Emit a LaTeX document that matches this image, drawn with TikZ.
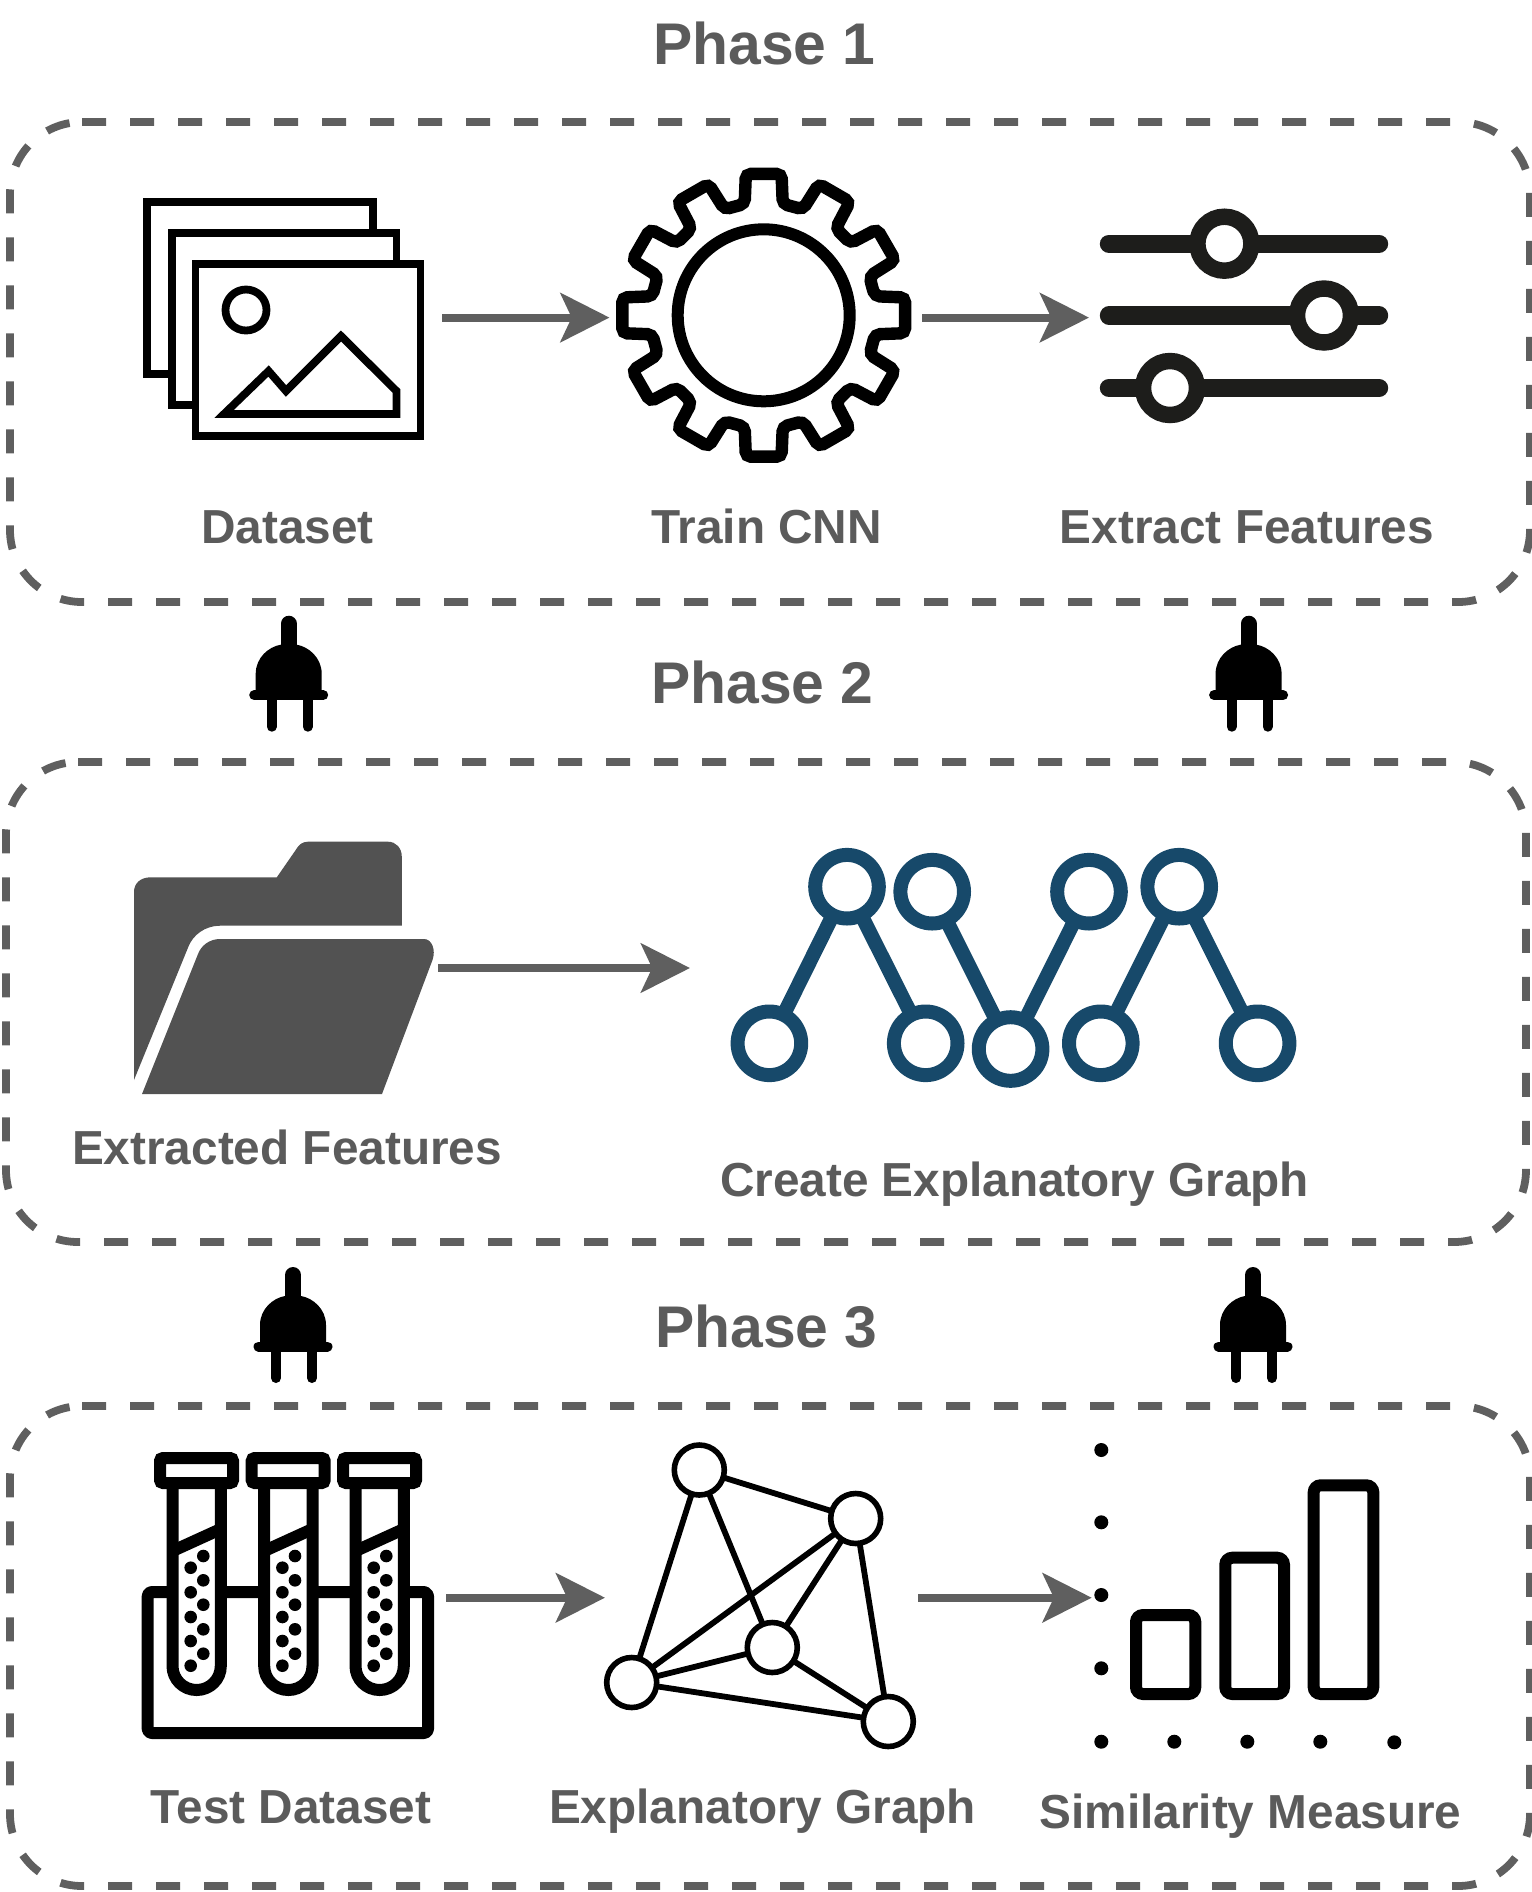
\documentclass[tikz,border=0pt]{standalone}
\usepackage{fontspec}
\setmainfont{Liberation Sans}
\usetikzlibrary{arrows.meta}
\definecolor{txtgrey}{HTML}{5B5B5B}
\definecolor{dashgrey}{HTML}{5F5F5F}
\definecolor{folderg}{HTML}{525252}
\definecolor{sliderk}{HTML}{1D1D1B}
\definecolor{graphblue}{HTML}{17496A}
\tikzset{
 phasebox/.style={draw=dashgrey,line width=3.9pt,dash pattern=on 12pt off 12pt},
 phaseframe/.pic={
  \draw[phasebox] (72,0) -- (1448,0) .. controls (1487.8,0) and (1520,32.2) .. (1520,72) -- (1520,408) .. controls (1520,447.8) and (1487.8,480) .. (1448,480) -- (72,480) .. controls (32.2,480) and (0,447.8) .. (0,408) -- (0,72) .. controls (0,32.2) and (32.2,0) .. (72,0);
 },
 flow/.style={draw=dashgrey,line width=4pt,-{Stealth[length=24.5pt,width=24.5pt,inset=5.6pt,fill=dashgrey]}},
 iconbox/.style={inner sep=0pt,outer sep=0pt,minimum height=5pt},
 phasetitle/.style={anchor=base,inner sep=0pt,text=txtgrey,font=\fontsize{29.4pt}{34pt}\selectfont\bfseries},
 label/.style={anchor=base,inner sep=0pt,text=txtgrey,font=\fontsize{23.87pt}{28pt}\selectfont\bfseries},
 imgrect/.style={draw=black,fill=white,line width=3.9pt,line join=miter},
 bluenode/.style={circle,draw=graphblue,fill=white,line width=7pt,minimum size=31.8pt,inner sep=0pt,outer sep=0pt},
 blueedge/.style={draw=graphblue,line width=7.2pt},
 netnode/.style={circle,draw=black,fill=white,line width=2.8pt,minimum size=25pt,inner sep=0pt,outer sep=0pt},
 netedge/.style={draw=black,line width=2.9pt},
 knob/.style={circle,draw=sliderk,fill=white,line width=8.2pt,minimum size=27pt,inner sep=0pt,outer sep=0pt},
 sliderline/.style={draw=sliderk,line width=9.2pt,line cap=round},
 bar/.style={draw=black,line width=6pt,rounded corners=3.5pt},
 dotmark/.style={circle,fill=black,minimum size=7pt,inner sep=0pt,outer sep=0pt},
 plugicon/.pic={
  \fill[black] (-33,75) -- (-33,58) .. controls (-33,42) and (-20,31) .. (-8,29) -- (8,29) .. controls (20,31) and (33,42) .. (33,58) -- (33,75) -- cycle;
  \draw[black,line width=8pt,line cap=round] (0,8) -- (0,32);
  \draw[black,line width=5pt,line cap=round] (-34.5,79.5) -- (34.5,79.5);
  \draw[black,line width=5pt,line cap=round] (-17,78) -- (-17,111);
  \draw[black,line width=5pt,line cap=round] (19,78) -- (19,111);
 },
 tubeicon/.pic={
  \draw[black,fill=white,line width=6pt] (172.5,1483) -- (172.5,1666) arc[start angle=180,end angle=360,x radius=24.15,y radius=-24] -- (220.8,1483);
  \draw[black,line width=6pt] (172.5,1551) -- (220.8,1529);
  \draw[black,fill=white,line width=6pt,rounded corners=1.5pt] (160,1458) rectangle (233,1483);
  \foreach \px/\py in {203.3/1556,190.7/1567.7,203.3/1580.3,190.7/1592.3,203.3/1604.7,190.7/1617,203.3/1629.3,190.7/1641,203.3/1653.7,190.7/1665.7}
   \fill[black] (\px,\py) circle[radius=6.3];
 }
}
\begin{document}
\begin{tikzpicture}[x=0.5pt,y=-0.5pt]
\useasboundingbox (0,0) rectangle (1532,1892);
\clip (0,0) rectangle (1532,1892);

% phase frames
\pic at (10,122) {phaseframe};
\pic at (6,762) {phaseframe};
\pic at (10,1406) {phaseframe};

% titles
\node[phasetitle] (title1) at (764.5,64) {Phase 1};
\node[phasetitle] (title2) at (762.6,703) {Phase 2};
\node[phasetitle] (title3) at (766.5,1347) {Phase 3};

% labels
\node[label] (lab1) at (287.5,543.7) {Dataset};
\node[label] (lab2) at (766.5,543.7) {Train CNN};
\node[label] (lab3) at (1247,543.7) {Extract Features};
\node[label] (lab4) at (287,1164) {Extracted Features};
\node[label] (lab5) at (1014.5,1196) {Create Explanatory Graph};
\node[label] (lab6) at (291,1823) {Test Dataset};
\node[label] (lab7) at (762.6,1823) {Explanatory Graph};
\node[label] (lab8) at (1250.5,1828) {Similarity Measure};

% image stack
\draw[imgrect] (147,202) rectangle (372.6,374);
\draw[imgrect] (171.7,233) rectangle (396.5,405);
\draw[imgrect] (195.5,264) rectangle (420.4,436);
\draw[black,line width=3.9pt] (246,310) circle[radius=20.5];
\draw[black,line width=3.9pt,line join=miter] (224,414) -- (268.6,371) -- (286,391) -- (341,336) -- (396.5,391) -- (396.5,414) -- cycle;

% gear
\begin{scope}[shift={(763.7,315.3)}]
\draw[black,line width=6.2pt,rounded corners=2.5pt] (-15:112)
 \foreach \a in {0,30,...,330} { -- (\a-9.7:113) -- (\a-7.2:142.5) -- (\a+7.2:142.5) -- (\a+9.7:113) } -- cycle;
\draw[black,line width=6pt] (0,0) circle[radius=86];
\end{scope}

% sliders
\draw[sliderline] (1109,243.7) -- (1379,243.7);
\draw[sliderline] (1109,315.5) -- (1379,315.5);
\draw[sliderline] (1109,388) -- (1379,388);
\node[knob] (k1) at (1224.4,243.7) {};
\node[knob] (k2) at (1324,315.5) {};
\node[knob] (k3) at (1170,388) {};

% plugs
\pic at (288.7,615.7) {plugicon};
\pic at (1248.6,615.7) {plugicon};
\pic at (293,1267) {plugicon};
\pic at (1253,1267) {plugicon};

% folder
\fill[folderg] (150.5,877.3) -- (276.8,877.3) -- (295.7,850) .. controls (299,844) and (303,841.7) .. (308,841.7) -- (388,841.7) .. controls (396,841.7) and (401.8,848) .. (401.8,856.7) -- (401.8,925.7) -- (220,925.7) .. controls (205,925.7) and (193,935) .. (188.4,946.7) -- (134,1080) -- (134,891.7) .. controls (134,883) and (141,877.3) .. (150.5,877.3) -- cycle;
\fill[folderg] (142,1094) -- (382,1094) -- (432.5,960) .. controls (436,950) and (432,939) .. (424,939) -- (220,939) .. controls (210,939) and (201,945) .. (197.6,955) -- cycle;

% explanatory graph, blue
\node[bluenode] (A) at (769.4,1043.3) {};
\node[bluenode] (B) at (847,886.7) {};
\node[bluenode] (C) at (925.7,1043.3) {};
\node[bluenode] (D) at (932.2,891.7) {};
\node[bluenode] (E) at (1010.6,1049) {};
\node[bluenode] (F) at (1089,891.7) {};
\node[bluenode] (G) at (1100.8,1043.3) {};
\node[bluenode] (H) at (1179.2,886.7) {};
\node[bluenode] (I) at (1257.6,1043.3) {};
\draw[blueedge] (A) -- (B);
\draw[blueedge] (B) -- (C);
\draw[blueedge] (D) -- (E);
\draw[blueedge] (E) -- (F);
\draw[blueedge] (G) -- (H);
\draw[blueedge] (H) -- (I);

% test tubes
\draw[black,line width=6pt,rounded corners=2pt,line join=round] (147.7,1592) rectangle (428,1733);
\pic at (0,0) {tubeicon};
\pic at (91.7,0) {tubeicon};
\pic at (183,0) {tubeicon};

% network
\node[netnode] (n1) at (699.3,1470) {};
\node[netnode] (n2) at (855.7,1518.5) {};
\node[netnode] (n3) at (772.3,1647.5) {};
\node[netnode] (n4) at (631.7,1682.5) {};
\node[netnode] (n5) at (888.3,1721.5) {};
\draw[netedge] (n1) -- (n2);
\draw[netedge] (n1) -- (n4);
\draw[netedge] (n1) -- (n3);
\draw[netedge] (n2) -- (n4);
\draw[netedge] (n2) -- (n3);
\draw[netedge] (n2) -- (n5);
\draw[netedge] (n3) -- (n4);
\draw[netedge] (n3) -- (n5);
\draw[netedge] (n4) -- (n5);

% bar chart
\draw[bar] (1136,1615) rectangle (1195.3,1694);
\draw[bar] (1225.3,1557.7) rectangle (1284,1694);
\draw[bar] (1313.7,1485.3) rectangle (1373.3,1694);
\node[dotmark] (d1) at (1101.3,1450) {};
\node[dotmark] (d2) at (1101.3,1522.3) {};
\node[dotmark] (d3) at (1101.3,1595) {};
\node[dotmark] (d4) at (1101.3,1668.3) {};
\node[dotmark] (d5) at (1101.3,1741.7) {};
\node[dotmark] (d6) at (1174.3,1741.7) {};
\node[dotmark] (d7) at (1247.3,1741.7) {};
\node[dotmark] (d8) at (1320.3,1741.7) {};
\node[dotmark] (d9) at (1394.3,1742.3) {};

% invisible icon holders that the connectors run between
\node[iconbox,minimum width=149.5pt] (imgstack) at (292.5,317.6) {};
\node[iconbox,minimum width=156.25pt] (gearicon) at (765.75,317.6) {};
\node[iconbox,minimum width=150.5pt] (slidericon) at (1239.5,317.6) {};
\node[iconbox,minimum width=150pt] (foldericon) at (288,968) {};
\node[iconbox,minimum width=290pt] (graphicon) at (980,968) {};
\node[iconbox,minimum width=150pt] (tubesicon) at (296,1597.7) {};
\node[iconbox,minimum width=156.5pt] (neticon) at (761.5,1597.7) {};
\node[iconbox,minimum width=150pt] (baricon) at (1241.7,1597.7) {};

\draw[flow] (imgstack.east) -- (gearicon.west);
\draw[flow] (gearicon.east) -- (slidericon.west);
\draw[flow] (foldericon.east) -- (graphicon.west);
\draw[flow] (tubesicon.east) -- (neticon.west);
\draw[flow] (neticon.east) -- (baricon.west);
\end{tikzpicture}
\end{document}
